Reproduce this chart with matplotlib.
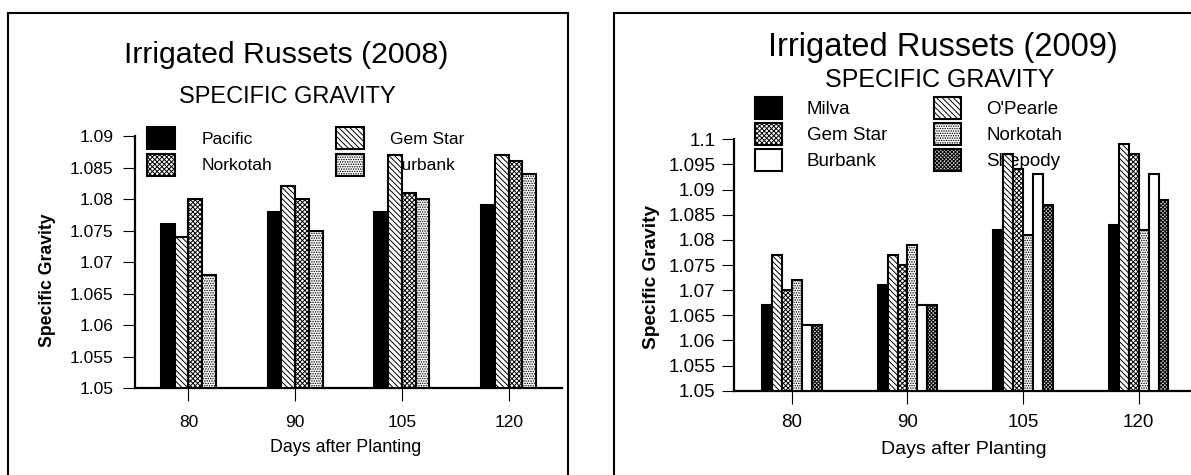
import numpy as np
import matplotlib
matplotlib.use("Agg")
import matplotlib.pyplot as plt
from matplotlib.patches import Rectangle

plt.rcParams['font.family'] = ['Liberation Sans', 'DejaVu Sans']
plt.rcParams['hatch.linewidth'] = 0.7

# --- data ---
days = ['80', '90', '105', '120']

# 2008
varieties_2008 = ['Pacific', 'Gem Star', 'Norkotah', 'Burbank']
pacific_2008 = [1.076, 1.078, 1.078, 1.079]
gemstar_2008 = [1.074, 1.082, 1.087, 1.087]
norkotah_2008 = [1.080, 1.080, 1.081, 1.086]
burbank_2008 = [1.068, 1.075, 1.080, 1.084]
yticks_2008 = [1.05, 1.055, 1.06, 1.065, 1.07, 1.075, 1.08, 1.085, 1.09]

# 2009
varieties_2009 = ['Milva', "O'Pearle", 'Gem Star', 'Norkotah', 'Burbank', 'Shepody']
milva_2009 = [1.067, 1.071, 1.082, 1.083]
opearle_2009 = [1.077, 1.077, 1.097, 1.099]
gemstar_2009 = [1.070, 1.075, 1.094, 1.097]
norkotah_2009 = [1.072, 1.079, 1.081, 1.082]
burbank_2009 = [1.063, 1.067, 1.093, 1.093]
shepody_2009 = [1.063, 1.067, 1.087, 1.088]
yticks_2009 = [1.05, 1.055, 1.06, 1.065, 1.07, 1.075, 1.08, 1.085, 1.09, 1.095, 1.1]

# bar styles (facecolor, hatch)
BLACK = ('black', None)
DIAG = ('white', '\\' * 6)
DENSE = ('white', 'x' * 7)
SPARSE = ('white', '.' * 7)
WHITE = ('white', None)
DARK = ('#d0d0d0', 'x' * 9)


def draw_panel(fig, rect, series, names, styles, yticks, ylim, fs, leg_anchor,
               leg_kw, leg_order, tick_pad):
    ax = fig.add_axes(rect)
    n = len(series)
    x = np.arange(len(days))
    group = 0.515
    w = group / n
    bars = []
    for i, (vals, style) in enumerate(zip(series, styles)):
        fc, hatch = style
        b = ax.bar(x + (i - (n - 1) / 2) * w, np.array(vals) - ylim[0], w,
                   bottom=ylim[0], color=fc, edgecolor='black', hatch=hatch,
                   linewidth=1.5, label=names[i], zorder=3)
        bars.append(b)
    ax.set_xlim(-0.5, 3.5)
    ax.set_ylim(*ylim)
    ax.set_xticks(x)
    ax.set_xticklabels(days, fontsize=fs)
    ax.set_yticks(yticks)
    ax.set_yticklabels([f'{v:g}' for v in yticks], fontsize=fs)
    for s in ['top', 'right']:
        ax.spines[s].set_visible(False)
    for s in ['left', 'bottom']:
        ax.spines[s].set_linewidth(1.6)
    ax.tick_params(axis='y', length=9, width=0.8, pad=tick_pad[0])
    ax.tick_params(axis='x', length=9, width=0.8, pad=tick_pad[1])
    ax.patch.set_alpha(0)

    # legend sits behind the bars, as in the original
    handles = [bars[k] for k in leg_order]
    labels = [names[k] for k in leg_order]
    leg = ax.legend(handles, labels, ncol=2, loc='upper left',
                    bbox_to_anchor=leg_anchor, bbox_transform=fig.transFigure,
                    frameon=False, borderpad=0, borderaxespad=0,
                    prop={'size': fs}, **leg_kw)
    leg.set_zorder(1)
    return ax


fig = plt.figure(figsize=(11.91, 4.75), dpi=100)

# panel frames
fig.add_artist(Rectangle((8 / 1191, -0.1), 560 / 1191, 1.0726, transform=fig.transFigure,
                         fill=False, edgecolor='black', linewidth=1.5))
fig.add_artist(Rectangle((614 / 1191, -0.1), 0.6, 1.0726, transform=fig.transFigure,
                         fill=False, edgecolor='black', linewidth=1.5))

# 2008 panel
draw_panel(fig, [135 / 1191, 87 / 475, 427 / 1191, 252 / 475],
           [pacific_2008, gemstar_2008, norkotah_2008, burbank_2008],
           varieties_2008, [BLACK, DIAG, DENSE, SPARSE], yticks_2008, (1.05, 1.09),
           12.5, (147 / 1191, 348 / 475),
           dict(handlelength=1.6, handleheight=1.55, labelspacing=0.29,
                handletextpad=1.55, columnspacing=3.65),
           [0, 2, 1, 3], (6.5, 10.5))

# 2009 panel
draw_panel(fig, [734 / 1191, 84.3 / 475, 462.5 / 1191, 251.4 / 475],
           [milva_2009, opearle_2009, gemstar_2009, norkotah_2009, burbank_2009, shepody_2009],
           varieties_2009, [BLACK, DIAG, DENSE, SPARSE, WHITE, DARK], yticks_2009, (1.05, 1.1),
           13.5, (755 / 1191, 378 / 475),
           dict(handlelength=1.44, handleheight=1.44, labelspacing=0.21,
                handletextpad=1.33, columnspacing=2.5),
           [0, 2, 4, 1, 3, 5], (4.3, 8))

# titles and axis labels
fig.text(286.5 / 1191, 412 / 475, 'Irrigated Russets (2008)', fontsize=21.8,
         ha='center', va='baseline')
fig.text(287.5 / 1191, 372 / 475, 'SPECIFIC GRAVITY', fontsize=17,
         ha='center', va='baseline')
fig.text(943 / 1191, 419 / 475, 'Irrigated Russets (2009)', fontsize=23.5,
         ha='center', va='baseline')
fig.text(940 / 1191, 388 / 475, 'SPECIFIC GRAVITY', fontsize=18,
         ha='center', va='baseline')

fig.text(47 / 1191, 195 / 475, 'Specific Gravity', fontsize=12.7, fontweight='bold',
         rotation=90, ha='center', va='center')
fig.text(652 / 1191, 198 / 475, 'Specific Gravity', fontsize=13.7, fontweight='bold',
         rotation=90, ha='center', va='center')
fig.text(346 / 1191, 28 / 475, 'Days after Planting', fontsize=12.9,
         ha='center', va='center')
fig.text(964 / 1191, 25 / 475, 'Days after Planting', fontsize=14,
         ha='center', va='center')

fig.savefig('out.png', dpi=100)
